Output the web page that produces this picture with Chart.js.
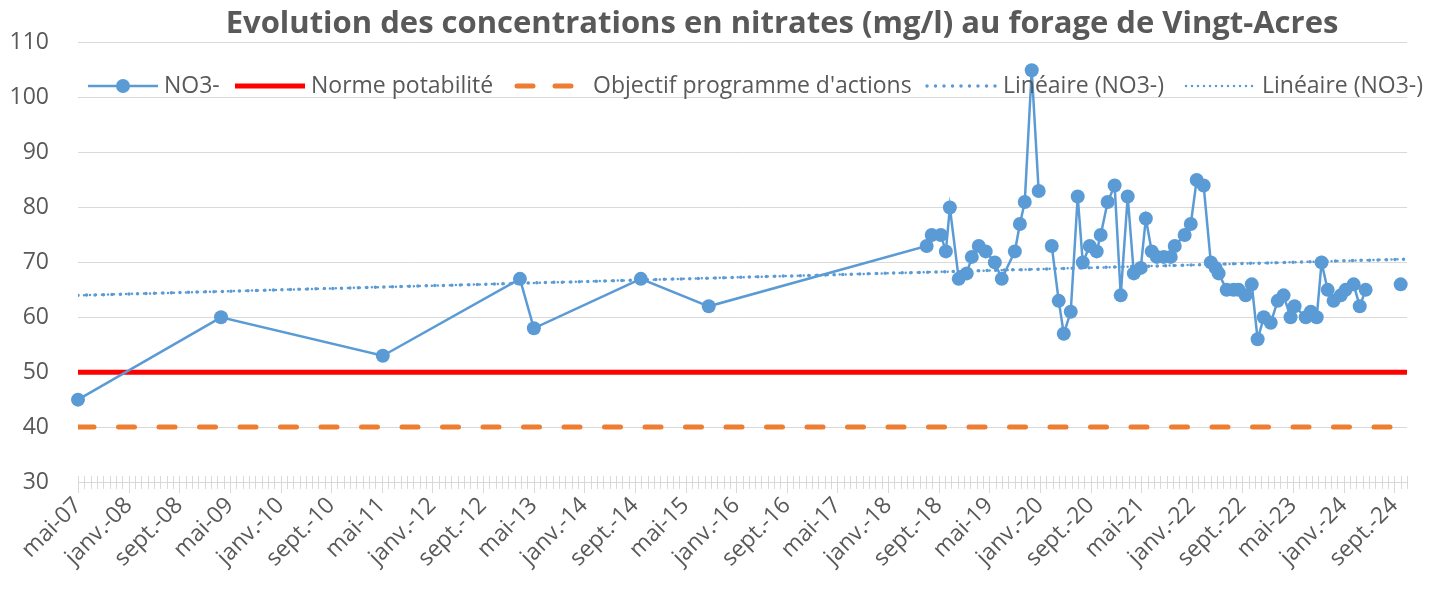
<!DOCTYPE html>
<html lang="fr">
<head>
<meta charset="utf-8">
<title>Nitrates - forage de Vingt-Acres</title>
<script src="https://cdn.jsdelivr.net/npm/chart.js@4.4.1/dist/chart.umd.min.js"></script>
<style>
  html, body { margin: 0; padding: 0; background: #fff; }
  #wrap { width: 1443px; height: 589px; }
</style>
</head>
<body>
<div id="wrap"><canvas id="nitrateChart"></canvas></div>
<script>
// dates de prélèvement et concentrations (null = trou dans la série)
const sampleDates = [
  "2007-05-01","2009-03-19","2011-05-06","2013-02-26","2013-05-02","2014-09-29","2015-08-21",
  "2018-07-04","2018-07-28","2018-09-11","2018-10-05","2018-10-24","2018-12-06",
  "2019-01-14","2019-02-08","2019-03-11","2019-04-14","2019-05-27","2019-06-30",
  "2019-09-02","2019-09-26","2019-10-19","2019-11-22","2019-12-25","2020-01-26",
  "2020-02-27","2020-03-30","2020-04-24","2020-05-27","2020-06-30","2020-07-24",
  "2020-08-27","2020-09-30","2020-10-19","2020-11-22","2020-12-25",
  "2021-01-24","2021-02-27","2021-03-26","2021-04-29","2021-05-23","2021-06-21",
  "2021-07-15","2021-08-18","2021-09-21","2021-10-10","2021-11-27","2021-12-26",
  "2022-01-24","2022-02-27","2022-03-31","2022-04-24","2022-05-08","2022-06-16",
  "2022-07-19","2022-08-13","2022-09-16","2022-10-15","2022-11-13","2022-12-12",
  "2023-01-15","2023-02-18","2023-03-16","2023-04-19","2023-05-08","2023-07-01",
  "2023-07-25","2023-08-23","2023-09-16","2023-10-15","2023-11-13","2023-12-17",
  "2024-01-10","2024-02-18","2024-03-17","2024-04-15","2024-07-01","2024-10-01"
];
const no3Values = [
  45, 60, 53, 67, 58, 67, 62,
  73, 75, 75, 72, 80, 67,
  68, 71, 73, 72, 70, 67,
  72, 77, 81, 105, 83, null,
  73, 63, 57, 61, 82, 70,
  73, 72, 75, 81, 84,
  64, 82, 68, 69, 78, 72,
  71, 71, 71, 73, 75, 77,
  85, 84, 70, 69, 68, 65,
  65, 65, 64, 66, 56, 60,
  59, 63, 64, 60, 62, 60,
  61, 60, 70, 65, 63, 64,
  65, 66, 62, 65, null, 66
];
const normeValue = 50;
const objectifValue = 40;
const trendEnds = [64.0, 70.6];          // tendance linéaire, début et fin de l'axe
const axisDates = ["2007-05-01", "2024-11-01"];
const yRange = [30, 110];
const yStep = 10;
const labelEvery = 8;                    // une étiquette tous les 8 mois
const monthNames = ["janv.","févr.","mars","avr.","mai","juin","juil.","août","sept.","oct.","nov.","déc."];
const titleText = "Evolution des concentrations en nitrates (mg/l) au forage de Vingt-Acres";

const textColor = '#595959';
const gridColor = '#d9d9d9';
const blue = '#5b9bd5';
Chart.defaults.font.family = "'Open Sans', sans-serif";
Chart.defaults.color = textColor;

// mois écoulés depuis mai 2007
function toMonths(s) {
  const [y, m, d] = s.split('-').map(Number);
  return (y - 2007) * 12 + (m - 5) + (d - 1) / 30;
}
function monthLabel(v) {
  const total = 4 + v;  // mai = index 4
  const y = 2007 + Math.floor(total / 12);
  return monthNames[total % 12] + '-' + String(y % 100).padStart(2, '0');
}

const axisMin = toMonths(axisDates[0]);
const axisMax = toMonths(axisDates[1]);
const no3Points = sampleDates.map((d, i) => ({ x: toMonths(d), y: no3Values[i] }));
const flat = v => [{ x: axisMin, y: v }, { x: axisMax, y: v }];

// position des échantillons de légende (bord gauche)
const legendX = [88, 235, 517, 927, 1186];

const overlay = {
  id: 'overlay',
  afterDraw(chart) {
    const ctx = chart.ctx;
    ctx.save();
    ctx.fillStyle = textColor;
    ctx.font = "bold 31px 'Open Sans'";
    ctx.textAlign = 'center';
    ctx.textBaseline = 'middle';
    ctx.fillText(titleText, 782, 24);

    // légende
    const ly = 86;
    ctx.font = "23px 'Open Sans'";
    ctx.textAlign = 'left';
    chart.data.datasets.forEach((ds, i) => {
      const x0 = legendX[i];
      ctx.save();
      ctx.strokeStyle = ds.borderColor;
      ctx.lineWidth = ds.borderWidth;
      ctx.lineCap = ds.borderCapStyle || 'butt';
      ctx.setLineDash(ds.legendDash || ds.borderDash || []);
      ctx.beginPath();
      ctx.moveTo(x0, ly);
      ctx.lineTo(x0 + 70, ly);
      ctx.stroke();
      if (ds.pointRadius) {
        ctx.fillStyle = ds.pointBackgroundColor;
        ctx.beginPath();
        ctx.arc(x0 + 35, ly, ds.pointRadius, 0, Math.PI * 2);
        ctx.fill();
      }
      ctx.restore();
      ctx.fillText(ds.label, x0 + 76, ly);
    });

    // graduations mensuelles de l'axe des dates
    const xs = chart.scales.x;
    const bottom = chart.chartArea.bottom;
    ctx.strokeStyle = gridColor;
    ctx.lineWidth = 1;
    for (let m = Math.ceil(axisMin); m <= axisMax; m++) {
      const px = Math.round(xs.getPixelForValue(m)) + 0.5;
      ctx.beginPath();
      ctx.moveTo(px, bottom - 6);
      ctx.lineTo(px, bottom + (m % labelEvery === 0 ? 11 : 7));
      ctx.stroke();
    }
    ctx.restore();
  }
};

new Chart(document.getElementById('nitrateChart'), {
  type: 'line',
  data: {
    datasets: [
      {
        label: 'NO3-',
        data: no3Points,
        borderColor: blue,
        backgroundColor: blue,
        borderWidth: 2.5,
        pointRadius: 7,
        pointBackgroundColor: blue,
        pointBorderWidth: 0,
        spanGaps: false,
        clip: false
      },
      {
        label: 'Norme potabilité',
        data: flat(normeValue),
        borderColor: '#ff0000',
        borderWidth: 5,
        pointRadius: 0
      },
      {
        label: "Objectif programme d'actions",
        data: flat(objectifValue),
        borderColor: '#ed7d31',
        borderWidth: 5,
        borderCapStyle: 'round',
        borderDash: [16, 24.5],
        legendDash: [16, 22],
        pointRadius: 0
      },
      {
        label: 'Linéaire (NO3-)',
        data: [{ x: axisMin, y: trendEnds[0] }, { x: axisMax, y: trendEnds[1] }],
        borderColor: blue,
        borderWidth: 3.5,
        borderCapStyle: 'round',
        borderDash: [0, 8.5],
        pointRadius: 0
      },
      {
        label: 'Linéaire (NO3-)',
        data: [{ x: axisMin, y: trendEnds[0] }, { x: axisMax, y: trendEnds[1] }],
        borderColor: blue,
        borderWidth: 2.5,
        borderCapStyle: 'round',
        borderDash: [0, 6],
        pointRadius: 0
      }
    ]
  },
  options: {
    responsive: true,
    maintainAspectRatio: false,
    animation: false,
    layout: { padding: { top: 41, right: 36, left: 0, bottom: 0 } },
    plugins: {
      legend: { display: false },
      title: { display: false },
      tooltip: { enabled: false }
    },
    scales: {
      x: {
        type: 'linear',
        min: axisMin,
        max: axisMax,
        afterFit(scale) { scale.height = 107; },
        grid: { display: false, drawTicks: false },
        border: { display: true, color: gridColor, width: 1 },
        ticks: {
          stepSize: 1,
          autoSkip: false,
          minRotation: 45,
          maxRotation: 45,
          padding: 10,
          font: { size: 23 },
          color: textColor,
          callback: v => (Number.isInteger(v) && v % labelEvery === 0) ? monthLabel(v) : ''
        }
      },
      y: {
        min: yRange[0],
        max: yRange[1],
        afterFit(scale) { scale.width = 78; },
        grid: { color: gridColor, lineWidth: 1, drawTicks: false },
        border: { display: false },
        ticks: {
          stepSize: yStep,
          padding: 29,
          font: { size: 23 },
          color: textColor
        }
      }
    }
  },
  plugins: [overlay]
});
</script>
</body>
</html>
